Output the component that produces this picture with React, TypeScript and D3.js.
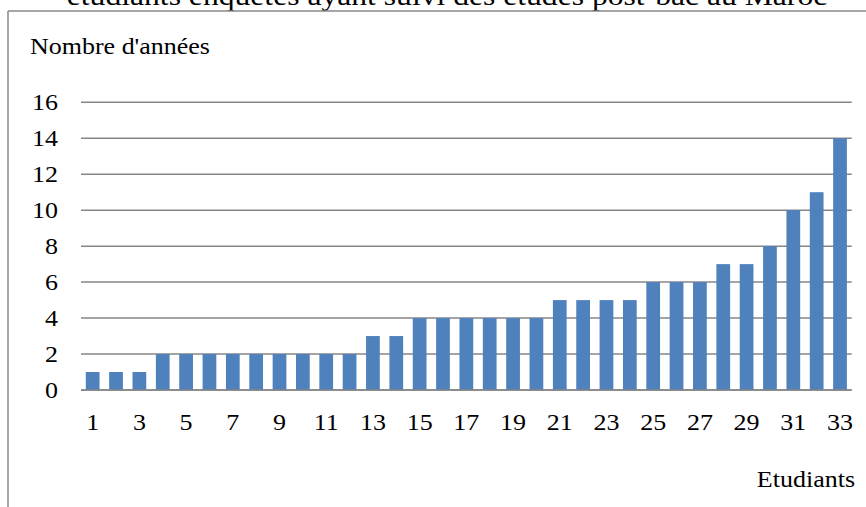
import React from "react";
import * as d3 from "d3";

const students = d3.range(1, 34).map(String);
const years = [1, 1, 1, 2, 2, 2, 2, 2, 2, 2, 2, 2, 3, 3, 4, 4, 4, 4, 4, 4, 5, 5, 5, 5, 6, 6, 6, 7, 7, 8, 10, 11, 14];
const yTicks = [0, 2, 4, 6, 8, 10, 12, 14, 16];
const title = "étudiants enquêtés ayant suivi des études post-bac au Maroc";
const yTitle = "Nombre d'années";
const xTitle = "Etudiants";

const W = 866, H = 507;
const left = 81, right = 851.7, top = 102.3, bottom = 390;
const SX = 1.13;
const font = "Liberation Serif, Times New Roman, Times, serif";

function T({ x, y, size, anchor = "start", children }: { x: number; y: number; size: number; anchor?: string; children: React.ReactNode }) {
  return (
    <text transform={`translate(${x},${y}) scale(${SX},1)`} textAnchor={anchor} fontSize={size} fill="#000" style={{ fontFamily: font }}>
      {children}
    </text>
  );
}

export default function App() {
  const x = d3.scaleBand().domain(students).range([left, right]).paddingInner(0.7 / 1.7).paddingOuter(0.35 / 1.7);
  const y = d3.scaleLinear().domain([0, 16]).range([bottom, top]);
  return (
    <svg width={W} height={H} style={{ position: "absolute", left: 0, top: 0, fontFamily: font }}>
      <rect x={0} y={0} width={W} height={H} fill="#fff" />
      <T x={447} y={5} size={28} anchor="middle">{title}</T>
      <line x1={8} x2={W} y1={11} y2={11} stroke="#888" strokeWidth={1.5} />
      <line x1={8} x2={8} y1={11} y2={H} stroke="#888" strokeWidth={1.5} />
      <T x={30} y={54} size={23}>{yTitle}</T>
      {yTicks.map((t) => (
        <g key={t}>
          <line x1={left} x2={right} y1={y(t)} y2={y(t)} stroke="#868686" strokeWidth={1.5} />
          <T x={58} y={y(t) + 8} size={23} anchor="end">{t}</T>
        </g>
      ))}
      {years.map((v, i) => (
        <rect key={i} x={x(students[i])!} y={y(v)} width={x.bandwidth()} height={y(0) - y(v)} fill="#4F81BD" />
      ))}
      <line x1={left} x2={right} y1={y(0)} y2={y(0)} stroke="#868686" strokeWidth={1.5} />
      {students.filter((_, i) => i % 2 === 0).map((s) => (
        <T key={s} x={x(s)! + x.bandwidth() / 2} y={430} size={23} anchor="middle">{s}</T>
      ))}
      <T x={855} y={487} size={23} anchor="end">{xTitle}</T>
    </svg>
  );
}
